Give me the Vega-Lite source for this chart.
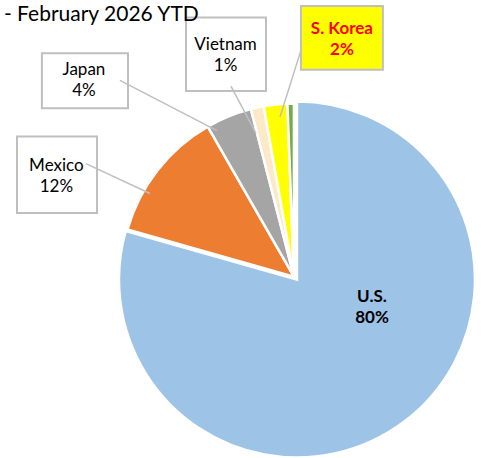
{
  "$schema": "https://vega.github.io/schema/vega-lite/v6.json",
  "width": 481,
  "height": 458,
  "autosize": {"type": "fit", "contains": "padding"},
  "padding": 0,
  "background": "white",
  "config": {"view": {"stroke": null}, "font": "Lato"},
  "datasets": {
    "shares": [
      {"country": "U.S.", "share": 79.4, "ord": 1},
      {"country": "Mexico", "share": 12.3, "ord": 2},
      {"country": "Japan", "share": 4.3, "ord": 3},
      {"country": "Vietnam", "share": 1.2, "ord": 4},
      {"country": "S. Korea", "share": 2.2, "ord": 5},
      {"country": "Other", "share": 0.6, "ord": 6}
    ],
    "labels": [
      {"country": "Japan", "lines": ["Japan", "4%"], "bold": false, "bx1": -142.5, "bx2": -94.4, "by1": 130.7, "by2": 98.9, "tx": -119.0, "ty": 118.3, "lx1": -98.9, "ly1": 115.1, "lx2": -44.7, "ly2": 86.0},
      {"country": "Mexico", "lines": ["Mexico", "12%"], "bold": false, "bx1": -156.4, "bx2": -111.7, "by1": 82.7, "by2": 38.5, "tx": -134.4, "ty": 62.7, "lx1": -117.9, "ly1": 67.0, "lx2": -82.1, "ly2": 49.7},
      {"country": "Vietnam", "lines": ["Vietnam", "1%"], "bold": false, "bx1": -62.0, "bx2": -17.3, "by1": 151.4, "by2": 108.9, "tx": -39.9, "ty": 132.6, "lx1": -36.9, "ly1": 111.7, "lx2": -22.9, "ly2": 84.4},
      {"country": "S. Korea", "lines": ["S. Korea", "2%"], "bold": true, "bx1": 2.2, "bx2": 48.0, "by1": 158.1, "by2": 121.2, "tx": 25.1, "ty": 141.9, "lx1": 2.2, "ly1": 132.4, "lx2": -9.5, "ly2": 93.9},
      {"country": "U.S.", "lines": ["U.S.", "80%"], "bold": true, "tx": 41.9, "ty": -13.2}
    ],
    "title": [
      {"text": "- February 2026 YTD", "tx": -163.7, "ty": 149.2}
    ]
  },
  "layer": [
    {
      "data": {"name": "shares"},
      "transform": [
        {"stack": "share", "sort": [{"field": "ord"}], "groupby": [], "as": ["t0", "t1"]},
        {"filter": "datum.country !== 'U.S.'"}
      ],
      "mark": {"type": "arc", "outerRadius": 173, "stroke": "white", "strokeWidth": 2.5},
      "encoding": {
        "x": {"datum": -1.7, "type": "quantitative", "scale": {"domain": [-165.9, 102.8], "nice": false, "zero": false}, "axis": null},
        "y": {"datum": 1.7, "type": "quantitative", "scale": {"domain": [-94.4, 161.5], "nice": false, "zero": false}, "axis": null},
        "theta": {"field": "t0", "type": "quantitative", "scale": {"domain": [0, 100]}},
        "theta2": {"field": "t1"},
        "color": {
          "field": "country",
          "type": "nominal",
          "scale": {
            "domain": ["U.S.", "Mexico", "Japan", "Vietnam", "S. Korea", "Other"],
            "range": ["#9DC3E6", "#ED7D31", "#A5A5A5", "#FCE9C8", "#FFFF00", "#70AD47"]
          },
          "legend": null
        }
      }
    },
    {
      "data": {"name": "shares"},
      "transform": [
        {"stack": "share", "sort": [{"field": "ord"}], "groupby": [], "as": ["t0", "t1"]},
        {"filter": "datum.country === 'U.S.'"}
      ],
      "mark": {"type": "arc", "outerRadius": 178, "stroke": "white", "strokeWidth": 2.5},
      "encoding": {
        "x": {"datum": 0, "type": "quantitative", "scale": {"domain": [-165.9, 102.8], "nice": false, "zero": false}, "axis": null},
        "y": {"datum": 0, "type": "quantitative", "scale": {"domain": [-94.4, 161.5], "nice": false, "zero": false}, "axis": null},
        "theta": {"field": "t0", "type": "quantitative", "scale": {"domain": [0, 100]}},
        "theta2": {"field": "t1"},
        "color": {
          "field": "country",
          "type": "nominal",
          "scale": {
            "domain": ["U.S.", "Mexico", "Japan", "Vietnam", "S. Korea", "Other"],
            "range": ["#9DC3E6", "#ED7D31", "#A5A5A5", "#FCE9C8", "#FFFF00", "#70AD47"]
          },
          "legend": null
        }
      }
    },
    {
      "data": {"name": "labels"},
      "transform": [{"filter": "datum.bx1 != null"}],
      "mark": {"type": "rect", "stroke": "#BFBFBF", "strokeWidth": 2},
      "encoding": {
        "x": {"field": "bx1", "type": "quantitative", "scale": {"domain": [-165.9, 102.8], "nice": false, "zero": false}, "axis": null},
        "x2": {"field": "bx2"},
        "y": {"field": "by1", "type": "quantitative", "scale": {"domain": [-94.4, 161.5], "nice": false, "zero": false}, "axis": null},
        "y2": {"field": "by2"},
        "fill": {"condition": {"test": "datum.country === 'S. Korea'", "value": "#FFFF00"}, "value": "white"}
      }
    },
    {
      "data": {"name": "labels"},
      "transform": [{"filter": "datum.lx1 != null"}],
      "mark": {"type": "rule", "stroke": "#BFBFBF", "strokeWidth": 1.5},
      "encoding": {
        "x": {"field": "lx1", "type": "quantitative", "scale": {"domain": [-165.9, 102.8], "nice": false, "zero": false}, "axis": null},
        "x2": {"field": "lx2"},
        "y": {"field": "ly1", "type": "quantitative", "scale": {"domain": [-94.4, 161.5], "nice": false, "zero": false}, "axis": null},
        "y2": {"field": "ly2"}
      }
    },
    {
      "data": {"name": "labels"},
      "transform": [{"filter": "!datum.bold"}],
      "mark": {"type": "text", "fontSize": 17, "lineHeight": 21, "align": "center", "baseline": "alphabetic", "color": "#000000"},
      "encoding": {
        "x": {"field": "tx", "type": "quantitative", "scale": {"domain": [-165.9, 102.8], "nice": false, "zero": false}, "axis": null},
        "y": {"field": "ty", "type": "quantitative", "scale": {"domain": [-94.4, 161.5], "nice": false, "zero": false}, "axis": null},
        "text": {"field": "lines"}
      }
    },
    {
      "data": {"name": "labels"},
      "transform": [{"filter": "datum.bold"}],
      "mark": {"type": "text", "fontSize": 17, "lineHeight": 21, "align": "center", "baseline": "alphabetic", "fontWeight": "bold"},
      "encoding": {
        "x": {"field": "tx", "type": "quantitative", "scale": {"domain": [-165.9, 102.8], "nice": false, "zero": false}, "axis": null},
        "y": {"field": "ty", "type": "quantitative", "scale": {"domain": [-94.4, 161.5], "nice": false, "zero": false}, "axis": null},
        "text": {"field": "lines"},
        "color": {"condition": {"test": "datum.country === 'S. Korea'", "value": "#FF0000"}, "value": "#000000"}
      }
    },
    {
      "data": {"name": "title"},
      "mark": {"type": "text", "fontSize": 21, "align": "left", "baseline": "alphabetic", "color": "#000000"},
      "encoding": {
        "x": {"field": "tx", "type": "quantitative", "scale": {"domain": [-165.9, 102.8], "nice": false, "zero": false}, "axis": null},
        "y": {"field": "ty", "type": "quantitative", "scale": {"domain": [-94.4, 161.5], "nice": false, "zero": false}, "axis": null},
        "text": {"field": "text"}
      }
    }
  ]
}
